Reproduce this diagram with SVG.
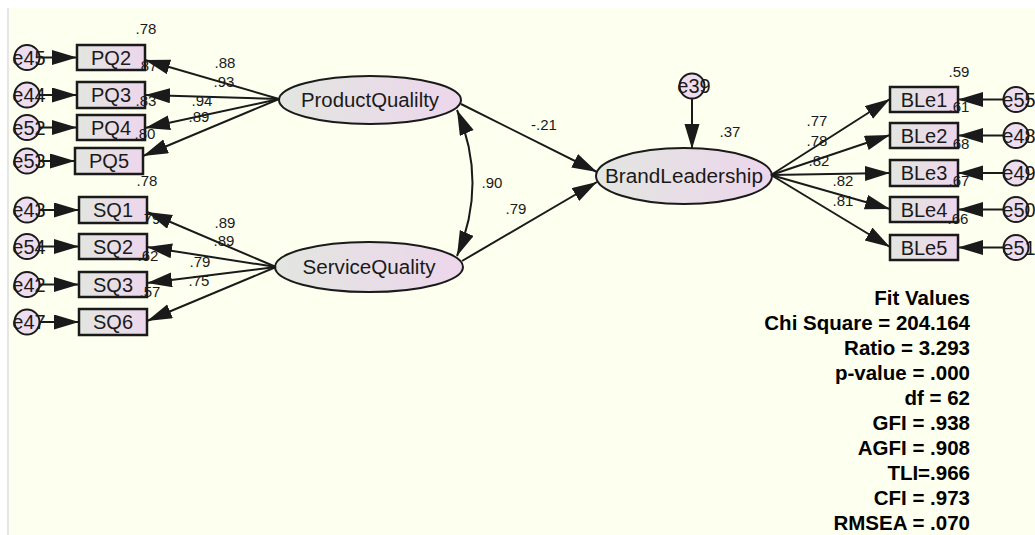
<svg xmlns="http://www.w3.org/2000/svg" width="1035" height="535" viewBox="0 0 1035 535">
<defs>
<linearGradient id="gFill" x1="0" y1="0" x2="1" y2="0">
<stop offset="0" stop-color="#E2E6E0"/>
<stop offset="1" stop-color="#EDD6EC"/>
</linearGradient>
<marker id="ah" markerUnits="userSpaceOnUse" markerWidth="28" markerHeight="18" refX="25" refY="7.5" orient="auto-start-reverse">
<path d="M0,0 L25,7.5 L0,15 z" fill="#1a1a1a"/>
</marker>
<style>
.box{fill:url(#gFill);stroke:#1a1a1a;stroke-width:2.5}
.lat{fill:url(#gFill);stroke:#1a1a1a;stroke-width:2}
.err{fill:#EEDDEE;stroke:#1a1a1a;stroke-width:2}
text{font-family:"Liberation Sans",Arial,sans-serif;fill:#1a1a1a}
.lbl{font-size:20px;text-anchor:middle}
.elab{font-size:20px;text-anchor:middle}
.num{font-size:15px;text-anchor:middle}
.fit{font-size:20.5px;font-weight:bold;text-anchor:end;fill:#000}
.c{stroke:#1a1a1a;stroke-width:2;fill:none;marker-end:url(#ah)}
.cv{stroke:#1a1a1a;stroke-width:2;fill:none;marker-end:url(#ah);marker-start:url(#ah)}
</style>
</defs>
<rect x="0" y="0" width="1035" height="535" fill="#ffffff"/>
<rect x="7" y="8" width="2" height="527" fill="#e6e6e6"/>
<rect x="9" y="8" width="1026" height="527" fill="#FDFFEF"/>

<!-- indicator nodes -->
<g id="PQ2"><rect class="box" x="77" y="45" width="68" height="25"/><text class="lbl" x="111" y="64.5">PQ2</text><text class="num" x="146" y="34">.78</text></g>
<g id="PQ3"><rect class="box" x="77" y="82" width="68" height="26"/><text class="lbl" x="111" y="102">PQ3</text><text class="num" x="147" y="71">.87</text></g>
<g id="PQ4"><rect class="box" x="77" y="115" width="68" height="25"/><text class="lbl" x="111" y="134.5">PQ4</text><text class="num" x="146" y="106">.83</text></g>
<g id="PQ5"><rect class="box" x="75" y="148" width="68" height="26"/><text class="lbl" x="109" y="168">PQ5</text><text class="num" x="145" y="139">.80</text></g>
<g id="SQ1"><rect class="box" x="79" y="197" width="68" height="26"/><text class="lbl" x="113" y="217">SQ1</text><text class="num" x="147" y="186">.78</text></g>
<g id="SQ2"><rect class="box" x="79" y="234" width="68" height="25"/><text class="lbl" x="113" y="253.5">SQ2</text><text class="num" x="150" y="224">.79</text></g>
<g id="SQ3"><rect class="box" x="79" y="272" width="68" height="25"/><text class="lbl" x="113" y="291.5">SQ3</text><text class="num" x="148" y="261">.62</text></g>
<g id="SQ6"><rect class="box" x="79" y="309" width="68" height="26"/><text class="lbl" x="113" y="329">SQ6</text><text class="num" x="150" y="297">.57</text></g>
<g id="BLe1"><rect class="box" x="890" y="87" width="68" height="25"/><text class="lbl" x="924" y="106.5">BLe1</text><text class="num" x="959" y="77">.59</text></g>
<g id="BLe2"><rect class="box" x="890" y="123" width="68" height="25"/><text class="lbl" x="924" y="142.5">BLe2</text><text class="num" x="959" y="112">.61</text></g>
<g id="BLe3"><rect class="box" x="890" y="160" width="68" height="26"/><text class="lbl" x="924" y="180">BLe3</text><text class="num" x="959" y="149">.68</text></g>
<g id="BLe4"><rect class="box" x="890" y="197" width="68" height="25"/><text class="lbl" x="924" y="216.5">BLe4</text><text class="num" x="959" y="186">.67</text></g>
<g id="BLe5"><rect class="box" x="890" y="235" width="68" height="25"/><text class="lbl" x="924" y="254.5">BLe5</text><text class="num" x="958" y="224">.66</text></g>

<!-- latent nodes -->
<g id="ProductQualilty"><ellipse class="lat" cx="370" cy="100" rx="91" ry="24"/><text class="lbl" x="370" y="107" textLength="138" lengthAdjust="spacingAndGlyphs">ProductQualilty</text></g>
<g id="ServiceQuality"><ellipse class="lat" cx="369" cy="267" rx="94" ry="25"/><text class="lbl" x="369" y="274" textLength="133" lengthAdjust="spacingAndGlyphs">ServiceQuality</text></g>
<g id="BrandLeadership"><ellipse class="lat" cx="684" cy="176" rx="88" ry="28"/><text class="lbl" x="684" y="183" textLength="158" lengthAdjust="spacingAndGlyphs">BrandLeadership</text><text class="num" x="730" y="137">.37</text></g>

<!-- error nodes -->
<g id="e45"><circle class="err" cx="27" cy="57.5" r="12.5"/><text class="elab" x="29" y="64.5">e45</text></g>
<g id="e44"><circle class="err" cx="27" cy="95" r="12.5"/><text class="elab" x="29" y="102">e44</text></g>
<g id="e52"><circle class="err" cx="27" cy="127.5" r="12.5"/><text class="elab" x="29" y="134.5">e52</text></g>
<g id="e53"><circle class="err" cx="27" cy="161" r="12.5"/><text class="elab" x="29" y="168">e53</text></g>
<g id="e43"><circle class="err" cx="27" cy="210" r="12.5"/><text class="elab" x="29" y="217">e43</text></g>
<g id="e54"><circle class="err" cx="27" cy="246.5" r="12.5"/><text class="elab" x="29" y="253.5">e54</text></g>
<g id="e42"><circle class="err" cx="27" cy="284.5" r="12.5"/><text class="elab" x="29" y="291.5">e42</text></g>
<g id="e47"><circle class="err" cx="27" cy="322" r="12.5"/><text class="elab" x="29" y="329">e47</text></g>
<g id="e55"><circle class="err" cx="1016" cy="99.5" r="12.5"/><text class="elab" x="1019" y="106.5">e55</text></g>
<g id="e48"><circle class="err" cx="1016" cy="135.5" r="12.5"/><text class="elab" x="1019" y="142.5">e48</text></g>
<g id="e49"><circle class="err" cx="1016" cy="173" r="12.5"/><text class="elab" x="1019" y="180">e49</text></g>
<g id="e50"><circle class="err" cx="1016" cy="209.5" r="12.5"/><text class="elab" x="1019" y="216.5">e50</text></g>
<g id="e51"><circle class="err" cx="1016" cy="247.5" r="12.5"/><text class="elab" x="1019" y="254.5">e51</text></g>
<g id="e39"><circle class="err" cx="692" cy="86" r="12.5"/><text class="elab" x="694" y="93">e39</text></g>

<!-- connectors -->
<g id="connectors">
<line class="c" x1="39" y1="57.5" x2="77" y2="57.5"/>
<line class="c" x1="39" y1="95" x2="77" y2="95"/>
<line class="c" x1="39" y1="127.5" x2="77" y2="127.5"/>
<line class="c" x1="39" y1="161" x2="75" y2="161"/>
<line class="c" x1="39" y1="210" x2="79" y2="210"/>
<line class="c" x1="39" y1="246.5" x2="79" y2="246.5"/>
<line class="c" x1="39" y1="284.5" x2="79" y2="284.5"/>
<line class="c" x1="39" y1="322" x2="79" y2="322"/>
<line class="c" x1="1004" y1="99.5" x2="958" y2="99.5"/>
<line class="c" x1="1004" y1="135.5" x2="958" y2="135.5"/>
<line class="c" x1="1004" y1="173" x2="958" y2="173"/>
<line class="c" x1="1004" y1="209.5" x2="958" y2="209.5"/>
<line class="c" x1="1004" y1="247.5" x2="958" y2="247.5"/>
<line class="c" x1="692" y1="98" x2="692" y2="149"/>
<line class="c" x1="279" y1="99" x2="145" y2="60"/>
<line class="c" x1="279" y1="99" x2="145" y2="95"/>
<line class="c" x1="279" y1="99" x2="145" y2="128"/>
<line class="c" x1="279" y1="99" x2="143" y2="156"/>
<line class="c" x1="276" y1="267" x2="147" y2="212"/>
<line class="c" x1="276" y1="267" x2="147" y2="247"/>
<line class="c" x1="276" y1="267" x2="147" y2="283"/>
<line class="c" x1="276" y1="267" x2="147" y2="321"/>
<line class="c" x1="771" y1="175" x2="890" y2="99"/>
<line class="c" x1="771" y1="175" x2="890" y2="135"/>
<line class="c" x1="771" y1="175" x2="890" y2="173"/>
<line class="c" x1="771" y1="175" x2="890" y2="209"/>
<line class="c" x1="771" y1="175" x2="890" y2="247"/>
<line class="c" x1="461" y1="104" x2="597" y2="172"/>
<line class="c" x1="462" y1="261" x2="597" y2="182"/>
<path class="cv" d="M457,110 Q488,183 457,256"/>
<text class="num" x="225" y="68">.88</text>
<text class="num" x="224" y="87">.93</text>
<text class="num" x="202" y="106">.94</text>
<text class="num" x="199" y="122">.89</text>
<text class="num" x="225" y="228">.89</text>
<text class="num" x="224" y="246">.89</text>
<text class="num" x="200" y="267">.79</text>
<text class="num" x="199" y="286">.75</text>
<text class="num" x="544" y="130">-.21</text>
<text class="num" x="492" y="188">.90</text>
<text class="num" x="516" y="214">.79</text>
<text class="num" x="817" y="126">.77</text>
<text class="num" x="817" y="146">.78</text>
<text class="num" x="819" y="166">.82</text>
<text class="num" x="843" y="186">.82</text>
<text class="num" x="843" y="206">.81</text>
</g>

<g id="fit-values">
<text class="fit" x="970" y="305">Fit Values</text>
<text class="fit" x="970" y="330">Chi Square = 204.164</text>
<text class="fit" x="970" y="355">Ratio = 3.293</text>
<text class="fit" x="970" y="380">p-value = .000</text>
<text class="fit" x="970" y="405">df = 62</text>
<text class="fit" x="970" y="430">GFI = .938</text>
<text class="fit" x="970" y="455">AGFI = .908</text>
<text class="fit" x="970" y="480">TLI=.966</text>
<text class="fit" x="970" y="505">CFI = .973</text>
<text class="fit" x="970" y="530">RMSEA = .070</text>
</g>
</svg>
